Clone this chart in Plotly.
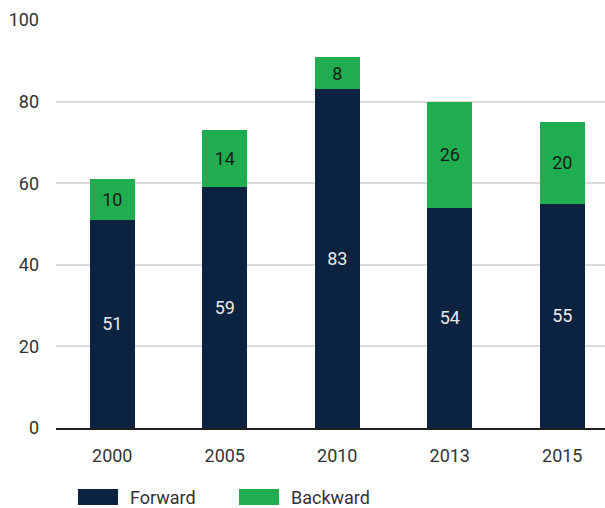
import plotly.graph_objects as go

years = ["2000", "2005", "2010", "2013", "2015"]
forward = [51, 59, 83, 54, 55]
backward = [10, 14, 8, 26, 20]

navy = "#0b2341"
green = "#1fad4f"
font_family = "Roboto, Arial, sans-serif"

fig = go.Figure()
fig.add_trace(go.Bar(
    x=years, y=forward, name="Forward", marker=dict(color=navy, line=dict(width=0)),
    text=forward, textposition="inside", insidetextanchor="middle",
    textfont=dict(color="#e8e8e8", size=18, family=font_family), width=0.4,
))
fig.add_trace(go.Bar(
    x=years, y=backward, name="Backward", marker=dict(color=green, line=dict(width=0)),
    text=backward, textposition="inside", insidetextanchor="middle",
    textfont=dict(color="#1a1a1a", size=18, family=font_family), width=0.4,
))

# legend drawn as swatches + labels below the plot
legend_items = [("Forward", navy, 78), ("Backward", green, 239)]
for label, color, x0 in legend_items:
    fig.add_shape(type="rect", xref="paper", yref="paper",
                  x0=(x0 - 56) / 549, x1=(x0 + 40 - 56) / 549,
                  y0=-(505 - 428) / 408, y1=-(489 - 428) / 408,
                  fillcolor=color, line=dict(width=0))
    fig.add_annotation(text=label, xref="paper", yref="paper",
                       x=(x0 + 50 - 56) / 549, y=-(497 - 428) / 408,
                       xanchor="left", yanchor="middle", showarrow=False,
                       font=dict(size=18, color="#333333", family=font_family))

fig.update_layout(
    barmode="stack",
    width=605, height=508,
    margin=dict(l=56, r=0, t=20, b=80),
    plot_bgcolor="white", paper_bgcolor="white",
    showlegend=False,
    font=dict(family=font_family, size=18, color="#333333"),
    xaxis=dict(range=[-0.5, 4.38], showgrid=False, showline=True, linecolor="#231f20",
               linewidth=2, ticks="", tickfont=dict(size=18, color="#333333")),
    yaxis=dict(range=[0, 100], dtick=20, showgrid=True, gridcolor="#dcdcdc", gridwidth=2,
               zeroline=False, showline=False, ticks="", ticklen=0,
               tickfont=dict(size=18, color="#333333")),
)
fig.update_yaxes(ticklabelstandoff=16)
fig.update_xaxes(ticklabelstandoff=10)

fig.write_html("out.html")
